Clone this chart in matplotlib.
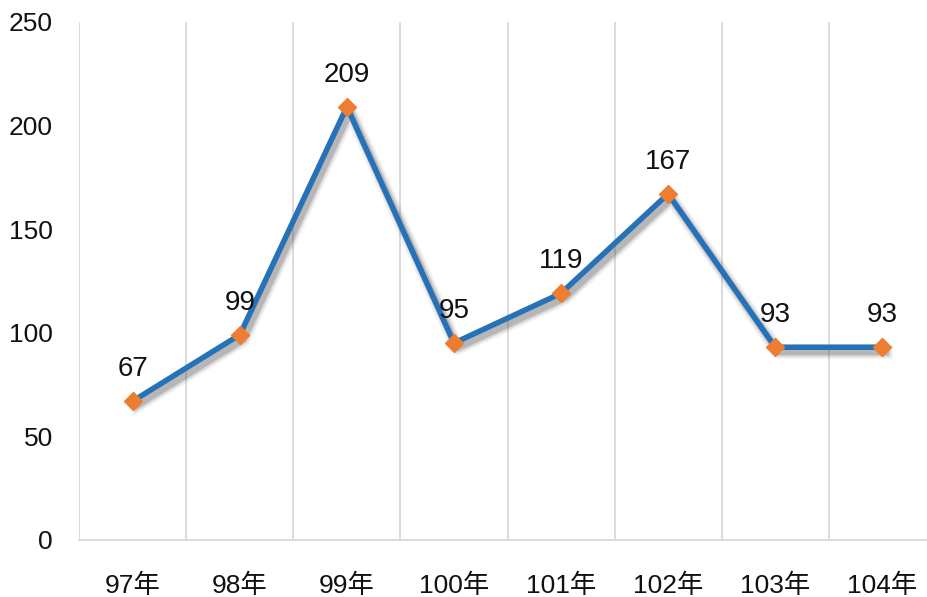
import matplotlib.pyplot as plt
import matplotlib.patheffects as pe

plt.rcParams['font.family'] = ['Liberation Sans', 'Noto Sans CJK TC']

# 各年度件數
years = ['97年', '98年', '99年', '100年', '101年', '102年', '103年', '104年']
counts = [67, 99, 209, 95, 119, 167, 93, 93]
yticks = [0, 50, 100, 150, 200, 250]

fig = plt.figure(figsize=(9.27, 5.97), dpi=100)
ax = fig.add_axes([0.0855, 0.0955, 0.924, 0.868])

x = list(range(len(years)))

# 柔和陰影：多層偏移線
shadow = [pe.SimpleLineShadow(offset=(2.5, -3.5), shadow_color='#444444', alpha=a, linewidth=w)
          for a, w in [(0.08, 10), (0.14, 7), (0.22, 4.5)]]
ax.plot(x, counts, color='#2672B8', lw=4, solid_joinstyle='round', zorder=3,
        path_effects=shadow + [pe.Normal()])
ax.plot(x, counts, ls='none', marker='D', ms=9.5, color='#ED7D31', zorder=4)

for xi, v in zip(x, counts):
    ax.annotate(str(v), (xi, v), xytext=(0, 23), textcoords='offset points',
                ha='center', va='center', fontsize=20, color='#111111')

ax.set_xlim(-0.5, len(years) - 0.5)
ax.set_ylim(0, 250)
ax.set_yticks(yticks)
ax.set_xticks(x)
ax.set_xticklabels(years)

# 類別之間的垂直格線
for b in [i + 0.5 for i in range(-1, len(years))]:
    ax.axvline(b, color='#d9d9d9', lw=1.3, zorder=0)

for s in ['top', 'right', 'left']:
    ax.spines[s].set_visible(False)
ax.spines['bottom'].set_color('#d9d9d9')
ax.spines['bottom'].set_linewidth(1.3)

ax.tick_params(axis='both', length=0, colors='#111111')
ax.tick_params(axis='y', pad=19, labelsize=19)
ax.tick_params(axis='x', pad=24, labelsize=19)

fig.savefig('out.png', dpi=100)
